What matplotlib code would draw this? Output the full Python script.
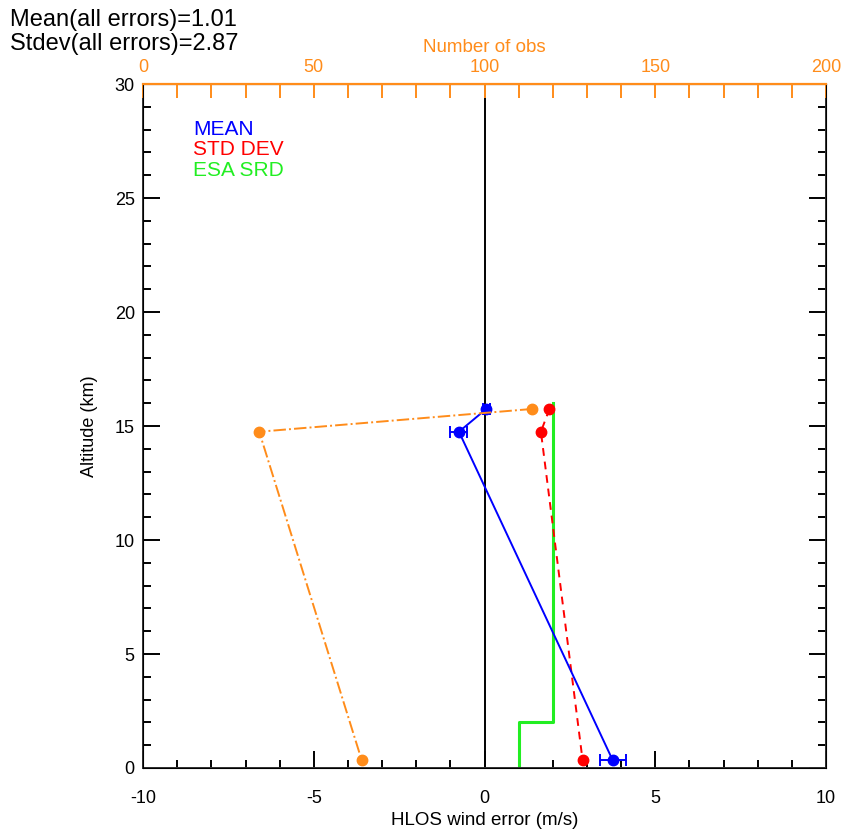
import matplotlib
matplotlib.use("Agg")
import matplotlib.pyplot as plt
from matplotlib.ticker import MultipleLocator

plt.rcParams['font.family'] = ['Liberation Sans', 'DejaVu Sans']
plt.rcParams['axes.unicode_minus'] = False

# profile levels (km)
alt = [15.75, 14.75, 0.35]
mean_err = [0.05, -0.75, 3.75]
mean_unc = [0.1, 0.25, 0.38]
std_alt = [15.75, 14.75, 0.35]
std_err = [1.9, 1.65, 2.87]
nobs = [114, 34, 64]
srd_alt = [0, 2, 2, 16]
srd_val = [1, 1, 2, 2]

orange = '#ff8c1a'
fs = 13

fig = plt.figure(figsize=(8.42, 8.30), dpi=100)
ax = fig.add_axes([0.17, 0.0747, 0.811, 0.824])

ax.plot([0, 0], [0, 30], color='black', lw=1.4)
ax.step(srd_val, srd_alt, where='pre', color='#22ee22', lw=2.2)
ax.errorbar(mean_err, alt, xerr=mean_unc, color='blue', lw=1.4, marker='o',
            ms=7.5, capsize=4, elinewidth=1.4, capthick=1.4)
ax.plot(std_err, std_alt, color='red', ls=(0, (4, 3)), lw=1.4, marker='o', ms=7.5)

ax.set_xlim(-10, 10)
ax.set_ylim(0, 30)
ax.xaxis.set_major_locator(MultipleLocator(5))
ax.xaxis.set_minor_locator(MultipleLocator(1))
ax.yaxis.set_major_locator(MultipleLocator(5))
ax.yaxis.set_minor_locator(MultipleLocator(1))
ax.tick_params(which='both', direction='in', right=True, top=False,
               labelsize=fs, width=1.4)
ax.tick_params(axis='x', pad=16)
ax.tick_params(axis='y', pad=6)
ax.tick_params(which='major', length=12)
ax.tick_params(which='minor', length=6)
for s in ['left', 'right', 'bottom']:
    ax.spines[s].set_linewidth(1.4)
    ax.spines[s].set_color('#333333')
ax.set_xlabel('HLOS wind error (m/s)', fontsize=fs + 0.5)
ax.xaxis.set_label_coords(0.5, -0.065)
ax.set_ylabel('Altitude (km)', fontsize=fs, labelpad=12)

ax2 = ax.twiny()
ax2.plot(nobs, alt, color=orange, ls='-.', lw=1.4, marker='o', ms=7.5)
ax2.set_xlim(0, 200)
ax2.xaxis.set_major_locator(MultipleLocator(50))
ax2.xaxis.set_minor_locator(MultipleLocator(10))
ax2.tick_params(which='both', direction='in', colors=orange, labelsize=fs,
                width=1.4, length=10, pad=6)
ax2.spines['top'].set_color(orange)
ax2.spines['top'].set_linewidth(1.6)
ax2.set_xlabel('Number of obs', color=orange, fontsize=fs + 0.5, labelpad=5)

ax.text(0.073, 0.926, 'MEAN', color='blue', fontsize=15, transform=ax.transAxes)
ax.text(0.073, 0.896, 'STD DEV', color='red', fontsize=15, transform=ax.transAxes)
ax.text(0.073, 0.866, 'ESA SRD', color='#22ee22', fontsize=15, transform=ax.transAxes)

fig.text(0.012, 0.976, 'Mean(all errors)=1.01', fontsize=17, va='center')
fig.text(0.012, 0.947, 'Stdev(all errors)=2.87', fontsize=17, va='center')

fig.savefig('out.png', dpi=100)
